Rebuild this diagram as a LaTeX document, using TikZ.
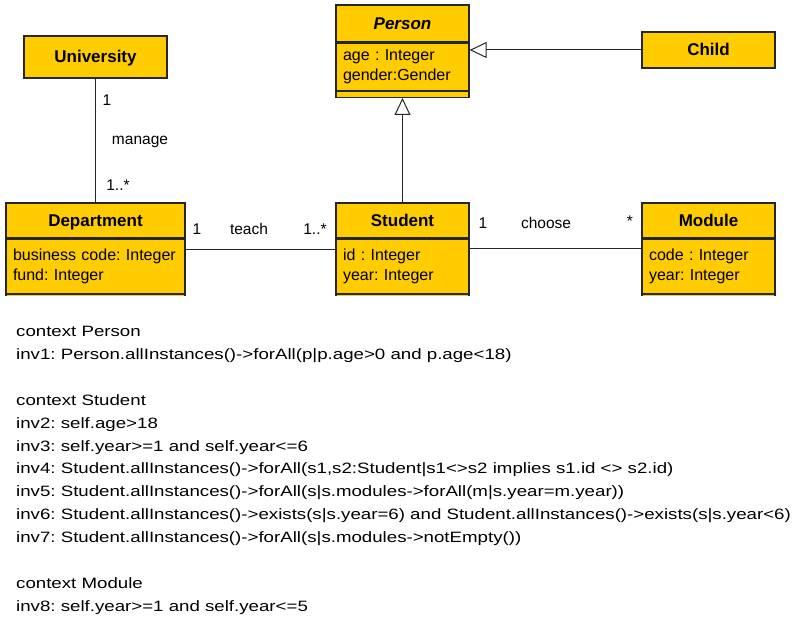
\documentclass[tikz,border=0pt]{standalone}
\usepackage{fontspec}
\setmainfont{Liberation Sans}
\newfontfamily\oclfont[FakeStretch=1.245]{Liberation Sans}
\usetikzlibrary{positioning,arrows.meta}
\definecolor{umlyellow}{RGB}{255,204,0}
\frenchspacing

\begin{document}
\begin{tikzpicture}[
  x=1pt, y=-1pt,
  node distance=0pt,
  classhead/.style={rectangle, draw=black!85, line width=1.2pt, fill=umlyellow, minimum width=133pt, minimum height=35pt, inner sep=0pt, text height=12pt, text depth=0pt, font=\fontsize{17}{20}\selectfont\bfseries},
  classattr/.style={rectangle, draw=black!85, line width=1.2pt, fill=umlyellow, minimum width=133pt, minimum height=54pt, inner xsep=7pt, inner ysep=0pt, text width=119pt, align=left, font=\fontsize{16}{19.5}\selectfont},
  classfoot/.style={rectangle, draw=black!85, line width=1.2pt, fill=umlyellow, minimum width=133pt, minimum height=6pt, inner sep=0pt},
  assoc/.style={draw=black!85, line width=1pt},
  inherit/.style={draw=black!85, line width=1pt, -{Triangle[open, length=17pt, width=16pt]}},
  mult/.style={font=\fontsize{15.5}{18}\selectfont, inner sep=0pt},
  ocl/.style={font=\oclfont\fontsize{15}{22.9}\selectfont, align=left, inner sep=0pt}
]
\useasboundingbox (0,0) rectangle (792,617);

% Person with its generalisations
\node[classhead, minimum height=37pt] (personhead) at (402.5,23.5) {\textit{Person}};
\node[classattr, minimum height=47pt, below=of personhead] (personattr) {age : Integer\\gender:Gender};
\node[classfoot, below=of personattr] (personfoot) {};

\node[classhead, minimum height=36pt] (childhead) at (708.5,50) {Child};

\node[classhead, minimum width=143pt, minimum height=42pt] (univhead) at (95.5,57) {University};

% Lower row (cut off at the bottom)
\begin{scope}
\clip (0,0) rectangle (792,295.5);
\node[classhead, minimum width=179pt] (depthead) at (95.5,220.5) {Department};
\node[classattr, minimum width=179pt, text width=165pt, below=of depthead] (deptattr) {business code: Integer\\fund: Integer};
\node[classfoot, minimum width=179pt, minimum height=10pt, below=of deptattr] (deptfoot) {};

\node[classhead] (studhead) at (402.5,220.5) {Student};
\node[classattr, below=of studhead] (studattr) {id : Integer\\year: Integer};
\node[classfoot, minimum height=10pt, below=of studattr] (studfoot) {};

\node[classhead] (modhead) at (708.5,220.5) {Module};
\node[classattr, below=of modhead] (modattr) {code : Integer\\year: Integer};
\node[classfoot, minimum height=10pt, below=of modattr] (modfoot) {};
\end{scope}

% Associations
\draw[assoc] (univhead.south) -- (depthead.north);
\draw[assoc] ([yshift=-11pt]deptattr.north east) -- ([yshift=-11pt]studattr.north west);
\draw[assoc] ([yshift=-10pt]studattr.north east) -- ([yshift=-10pt]modattr.north west);

% Generalisations
\draw[inherit] (studhead.north) -- (personfoot.south);
\draw[inherit] (childhead.west) -- (childhead.west -| personattr.east);

% Multiplicities and names
\node[mult] (univone) at (107,100) {1};
\node[mult] (managelbl) at (140,142) {manage};
\node[mult] (univmany) at (118,185) {1..*};
\node[mult] (teachone) at (197,229) {1};
\node[mult] (teachlbl) at (249,229) {teach};
\node[mult] (teachmany) at (315,229) {1..*};
\node[mult] (chooseone) at (483,223) {1};
\node[mult] (chooselbl) at (546,223) {choose};
\node[mult] (choosemany) at (630,221) {*};

% OCL constraints
\node[ocl, anchor=north west] (constraints) at (16,326) {
  context Person\\
  inv1: Person.allInstances()->forAll(p|p.age>0 and p.age<18)\\[22.9pt]
  context Student\\
  inv2: self.age>18\\
  inv3: self.year>=1 and self.year<=6\\
  inv4: Student.allInstances()->forAll(s1,s2:Student|s1<>s2 implies s1.id <> s2.id)\\
  inv5: Student.allInstances()->forAll(s|s.modules->forAll(m|s.year=m.year))\\
  inv6: Student.allInstances()->exists(s|s.year=6) and Student.allInstances()->exists(s|s.year<6)\\
  inv7: Student.allInstances()->forAll(s|s.modules->notEmpty())\\[22.9pt]
  context Module\\
  inv8: self.year>=1 and self.year<=5
};

\end{tikzpicture}
\end{document}
